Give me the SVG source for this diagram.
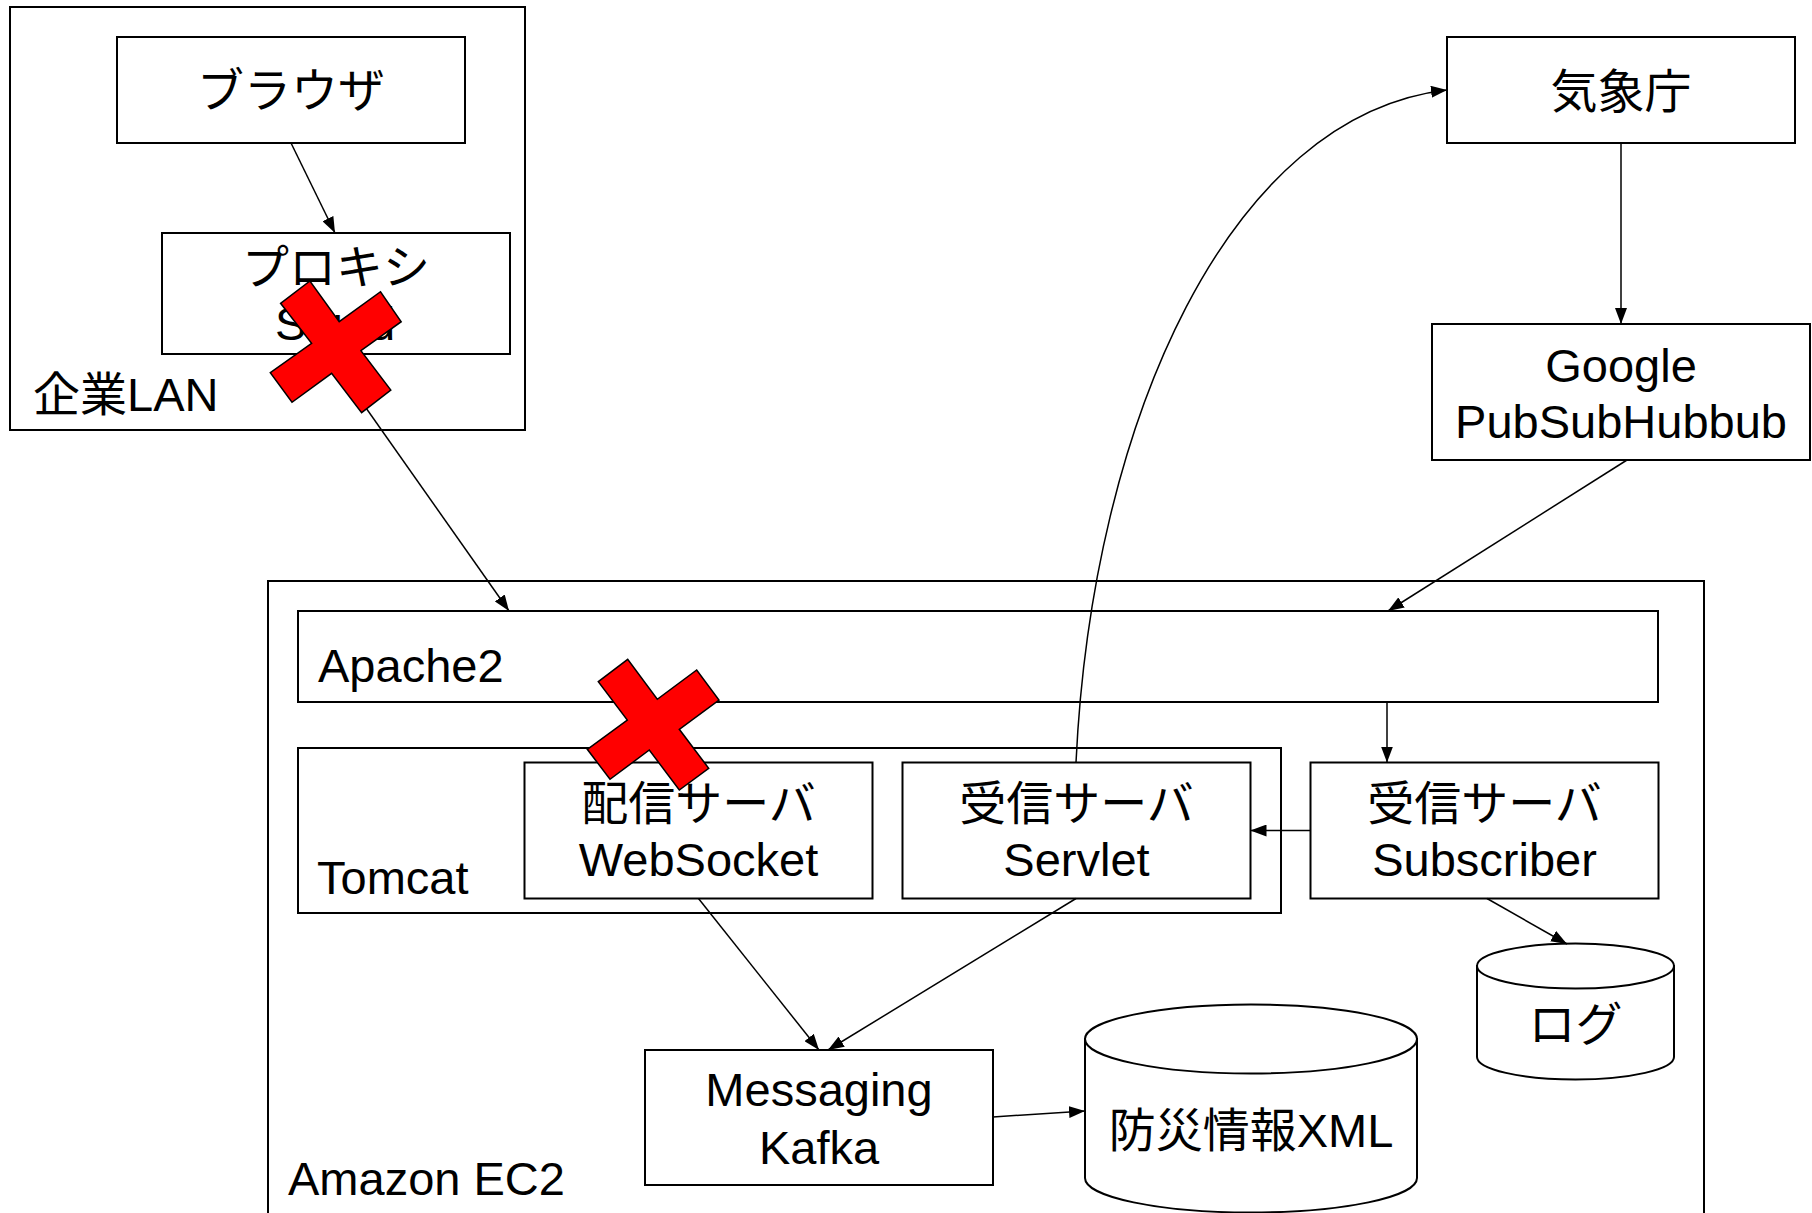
<svg xmlns="http://www.w3.org/2000/svg" width="1812" height="1213" viewBox="0 0 1812 1213">
<style>
.box{fill:#fff;stroke:#000;stroke-width:2}
.t{font-family:"Liberation Sans","Noto Sans CJK JP",sans-serif;font-size:47px;fill:#000}
.c{text-anchor:middle}
.con{fill:none;stroke:#000;stroke-width:1.5}
.x{fill:#ff0000;stroke:#000;stroke-width:1.5;stroke-linejoin:miter}
</style>
<defs>
<marker id="arr" markerUnits="userSpaceOnUse" markerWidth="16" markerHeight="12" refX="16" refY="6" orient="auto">
<path d="M0,0 L16,6 L0,12 z" fill="#000"/>
</marker>
</defs>
<rect width="1812" height="1213" fill="#fff"/>
<g id="lan">
<rect class="box" x="10" y="7" width="515" height="423"/>
<text class="t" x="33" y="411">企業LAN</text>
</g>
<g id="browser">
<rect class="box" x="117" y="37" width="348" height="106"/>
<text class="t c" x="291" y="107">ブラウザ</text>
</g>
<g id="proxy">
<rect class="box" x="162" y="233" width="348" height="121"/>
<text class="t c" x="336" y="284">プロキシ</text>
<text class="t c" x="335" y="340">Squid</text>
</g>
<g id="jma">
<rect class="box" x="1447" y="37" width="348" height="106"/>
<text class="t c" x="1621" y="108">気象庁</text>
</g>
<g id="hub">
<rect class="box" x="1432" y="324" width="378" height="136"/>
<text class="t c" x="1621" y="382">Google</text>
<text class="t c" x="1621" y="438">PubSubHubbub</text>
</g>
<g id="ec2">
<rect class="box" x="268" y="581" width="1436" height="660"/>
<text class="t" x="288" y="1195">Amazon EC2</text>
</g>
<g id="apache">
<rect class="box" x="298" y="611" width="1360" height="91"/>
<text class="t" x="318" y="682">Apache2</text>
</g>
<g id="tomcat">
<rect class="box" x="298" y="748" width="983" height="165"/>
<text class="t" x="317" y="894">Tomcat</text>
</g>
<g id="websocket">
<rect class="box" x="524.5" y="762.5" width="348" height="136"/>
<text class="t c" x="698.5" y="820">配信サーバ</text>
<text class="t c" x="698.5" y="876">WebSocket</text>
</g>
<g id="servlet">
<rect class="box" x="902.5" y="762.5" width="348" height="136"/>
<text class="t c" x="1076.5" y="820">受信サーバ</text>
<text class="t c" x="1076.5" y="876">Servlet</text>
</g>
<g id="subscriber">
<rect class="box" x="1310.5" y="762.5" width="348" height="136"/>
<text class="t c" x="1484.5" y="820">受信サーバ</text>
<text class="t c" x="1484.5" y="876">Subscriber</text>
</g>
<g id="kafka">
<rect class="box" x="645" y="1050" width="348" height="135"/>
<text class="t c" x="819" y="1106">Messaging</text>
<text class="t c" x="819" y="1164">Kafka</text>
</g>
<g id="log">
<path class="box" d="M1477,966 L1477,1057 A98.5,22.5 0 0 0 1674,1057 L1674,966 Z"/>
<ellipse class="box" cx="1575.5" cy="966" rx="98.5" ry="22.5"/>
<text class="t c" x="1575.5" y="1041">ログ</text>
</g>
<g id="xml">
<path class="box" d="M1085,1039 L1085,1178 A166,34.5 0 0 0 1417,1178 L1417,1039 Z"/>
<ellipse class="box" cx="1251" cy="1039" rx="166" ry="34.5"/>
<text class="t c" x="1251" y="1147">防災情報XML</text>
</g>
<g id="connectors">
<line class="con" x1="291" y1="143" x2="335" y2="233" marker-end="url(#arr)"/>
<line class="con" x1="328" y1="354" x2="509" y2="611" marker-end="url(#arr)"/>
<line class="con" x1="1621" y1="143" x2="1621" y2="324" marker-end="url(#arr)"/>
<line class="con" x1="1627" y1="460" x2="1388" y2="611" marker-end="url(#arr)"/>
<line class="con" x1="1387" y1="702" x2="1387" y2="762.5" marker-end="url(#arr)"/>
<line class="con" x1="1310.5" y1="830.5" x2="1250.5" y2="830.5" marker-end="url(#arr)"/>
<path class="con" d="M1076,762.5 C1092,420 1230,115 1447,90" marker-end="url(#arr)"/>
<line class="con" x1="1487" y1="898.5" x2="1567" y2="944" marker-end="url(#arr)"/>
<line class="con" x1="698.5" y1="898.5" x2="819" y2="1050" marker-end="url(#arr)"/>
<line class="con" x1="1076" y1="898.5" x2="828" y2="1050" marker-end="url(#arr)"/>
<line class="con" x1="993" y1="1117" x2="1085" y2="1111" marker-end="url(#arr)"/>
</g>
<g id="cross1">
<polygon class="x" points="280.6,303.3 309.9,281 339.2,321.7 380.5,291.7 401.2,321.7 360.9,350.7 390.8,390 361.6,412.7 331.6,373.3 292,402.3 270.3,372.7 311.6,343.3"/>
</g>
<g id="cross2">
<polygon class="x" points="598.3,681.7 627.7,659.3 657.3,699.3 696.7,670 719,700 679.3,729.3 708.7,768.3 679.3,790 649.3,750 610,779.3 587.3,749.3 627.3,720"/>
</g>
</svg>
